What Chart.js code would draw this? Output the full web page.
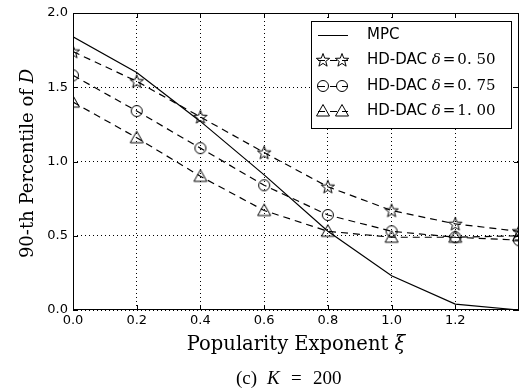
<!DOCTYPE html>
<html>
<head>
<meta charset="utf-8">
<script src="https://cdn.jsdelivr.net/npm/chart.js@4.4.0/dist/chart.umd.min.js"></script>
<style>
  html, body { margin: 0; padding: 0; background: #fff; }
  #wrap { width: 520px; height: 392px; position: relative; }
</style>
</head>
<body>
<div id="wrap"><canvas id="chart" width="520" height="392"></canvas></div>
<script>
// Values
const xValues = [0.0, 0.2, 0.4, 0.6, 0.8, 1.0, 1.2, 1.4];
const mpc     = [1.84, 1.60, 1.27, 0.91, 0.53, 0.23, 0.04, 0.0];
const hd050   = [1.74, 1.54, 1.30, 1.06, 0.83, 0.67, 0.58, 0.53];
const hd075   = [1.58, 1.34, 1.09, 0.84, 0.64, 0.53, 0.49, 0.47];
const hd100   = [1.40, 1.16, 0.90, 0.67, 0.53, 0.49, 0.49, 0.50];
const xTicks  = [0.0, 0.2, 0.4, 0.6, 0.8, 1.0, 1.2];
const yTicks  = [0.0, 0.5, 1.0, 1.5, 2.0];

const SANS = '"DejaVu Sans", sans-serif';
const SERIF = '"DejaVu Serif", serif';
const TIMES = '"Liberation Serif", serif';

// hollow marker images
function makeMarker(kind) {
    const c = document.createElement('canvas');
    c.width = 16; c.height = 16;
    const g = c.getContext('2d');
    g.strokeStyle = '#000';
    g.lineWidth = 1;
    g.beginPath();
    if (kind === 'star') {
        for (let i = 0; i < 10; i++) {
            const r = i % 2 === 0 ? 7 : 2.9;
            const a = -Math.PI / 2 + i * Math.PI / 5;
            const px = 8 + r * Math.cos(a), py = 8.5 + r * Math.sin(a);
            if (i === 0) g.moveTo(px, py); else g.lineTo(px, py);
        }
        g.closePath();
    } else if (kind === 'circle') {
        g.arc(8, 8, 5.5, 0, Math.PI * 2);
    } else {
        g.moveTo(8, 1.5);
        g.lineTo(14.5, 13);
        g.lineTo(1.5, 13);
        g.closePath();
    }
    g.stroke();
    return c;
}
const starImg = makeMarker('star');
const circleImg = makeMarker('circle');
const triImg = makeMarker('tri');

function pts(ys) {
    return xValues.map((x, i) => ({ x: x, y: ys[i] }));
}

const legendRows = [
    { label: 'MPC', delta: null, img: null },
    { label: 'HD-DAC ', delta: '0.50', img: starImg },
    { label: 'HD-DAC ', delta: '0.75', img: circleImg },
    { label: 'HD-DAC ', delta: '1.00', img: triImg }
];

const decorPlugin = {
    id: 'decor',
    afterDatasetsDraw(chart) {
        const ctx = chart.ctx;
        const a = chart.chartArea;
        const xs = chart.scales.x, ys = chart.scales.y;
        ctx.save();
        // frame
        ctx.strokeStyle = '#000';
        ctx.lineWidth = 1;
        ctx.strokeRect(a.left + 0.5, a.top + 0.5, a.right - a.left - 1, a.bottom - a.top - 1);
        // inward ticks
        ctx.beginPath();
        xTicks.forEach(v => {
            const px = Math.round(xs.getPixelForValue(v)) + 0.5;
            ctx.moveTo(px, a.bottom); ctx.lineTo(px, a.bottom - 5);
            ctx.moveTo(px, a.top); ctx.lineTo(px, a.top + 5);
        });
        yTicks.forEach(v => {
            const py = Math.round(ys.getPixelForValue(v)) + 0.5;
            ctx.moveTo(a.left, py); ctx.lineTo(a.left + 5, py);
            ctx.moveTo(a.right, py); ctx.lineTo(a.right - 5, py);
        });
        ctx.stroke();

        // legend
        const lx = 311, ly = 21, lw = 200, lh = 107;
        ctx.fillStyle = '#fff';
        ctx.fillRect(lx, ly, lw, lh);
        ctx.strokeRect(lx + 0.5, ly + 0.5, lw, lh);
        const rowY = [35, 60, 86, 111];
        legendRows.forEach((r, i) => {
            const y = rowY[i];
            ctx.strokeStyle = '#000';
            ctx.lineWidth = 1;
            if (!r.img) {
                ctx.setLineDash([]);
                ctx.beginPath();
                ctx.moveTo(318, y + 0.5); ctx.lineTo(348, y + 0.5);
                ctx.stroke();
            } else {
                ctx.setLineDash([7, 5]);
                ctx.beginPath();
                ctx.moveTo(318, y + 0.5); ctx.lineTo(348, y + 0.5);
                ctx.stroke();
                ctx.setLineDash([]);
                ctx.drawImage(r.img, 323 - 8, y - 8);
                ctx.drawImage(r.img, 342 - 8, y - 8);
            }
            ctx.fillStyle = '#000';
            ctx.textBaseline = 'middle';
            ctx.textAlign = 'left';
            ctx.font = '15px ' + SANS;
            let tx = 367;
            ctx.fillText(r.label, tx, y);
            if (r.delta) {
                tx += ctx.measureText(r.label).width;
                ctx.font = 'italic 15px ' + SERIF;
                ctx.fillText('\u03b4', tx, y);
                tx += ctx.measureText('\u03b4').width + 2;
                ctx.font = '15px ' + SERIF;
                ctx.fillText('=', tx, y);
                tx += ctx.measureText('=').width + 2;
                ctx.fillText(r.delta.replace('.', '. '), tx, y);
            }
        });

        // x axis title
        ctx.fillStyle = '#000';
        ctx.textBaseline = 'middle';
        ctx.textAlign = 'left';
        const cx = (a.left + a.right) / 2;
        ctx.font = '19.5px ' + SERIF;
        const t1 = 'Popularity Exponent ';
        const w1 = ctx.measureText(t1).width;
        ctx.font = 'italic 19.5px ' + SERIF;
        const w2 = ctx.measureText('\u03be').width;
        let sx = cx - (w1 + w2) / 2;
        ctx.font = '19.5px ' + SERIF;
        ctx.fillText(t1, sx, 345);
        ctx.font = 'italic 19.5px ' + SERIF;
        ctx.fillText('\u03be', sx + w1, 345);

        // caption (math spacing as in the figure)
        ctx.textBaseline = 'alphabetic';
        ctx.font = '19px ' + TIMES;
        ctx.fillText('(c)', 236, 384);
        ctx.font = 'italic 19px ' + TIMES;
        ctx.fillText('K', 267, 384);
        ctx.font = '19px ' + TIMES;
        ctx.fillText('=', 291, 384);
        ctx.fillText('200', 313, 384);

        // y title, rotated
        ctx.textBaseline = 'middle';
        ctx.translate(28, (a.top + a.bottom) / 2 + 2);
        ctx.rotate(-Math.PI / 2);
        ctx.font = '18px ' + SERIF;
        const y1 = '90-th Percentile of ';
        const yw1 = ctx.measureText(y1).width;
        ctx.font = 'italic 18px ' + SERIF;
        const yw2 = ctx.measureText('D').width;
        sx = -(yw1 + yw2) / 2;
        ctx.font = '18px ' + SERIF;
        ctx.fillText(y1, sx, 0);
        ctx.font = 'italic 18px ' + SERIF;
        ctx.fillText('D', sx + yw1, 0);
        ctx.restore();
    }
};

const dashed = [7, 5];

new Chart(document.getElementById('chart'), {
    type: 'line',
    data: {
        datasets: [
            { label: 'MPC', data: pts(mpc), borderColor: '#000', borderWidth: 1.2,
              pointRadius: 0, tension: 0 },
            { label: 'HD-DAC 0.50', data: pts(hd050), borderColor: '#000', borderWidth: 1.2,
              borderDash: dashed, pointStyle: starImg, tension: 0 },
            { label: 'HD-DAC 0.75', data: pts(hd075), borderColor: '#000', borderWidth: 1.2,
              borderDash: dashed, pointStyle: circleImg, tension: 0 },
            { label: 'HD-DAC 1.00', data: pts(hd100), borderColor: '#000', borderWidth: 1.2,
              borderDash: dashed, pointStyle: triImg, tension: 0 }
        ]
    },
    options: {
        responsive: false,
        animation: false,
        events: [],
        layout: { autoPadding: false, padding: { top: 13, right: 1, left: 0, bottom: 0 } },
        plugins: { legend: { display: false }, tooltip: { enabled: false } },
        scales: {
            x: {
                type: 'linear',
                min: 0, max: 1.4,
                afterFit(s) { s.height = 82; s.paddingLeft = 0; s.paddingRight = 0; },
                afterBuildTicks(s) { s.ticks = xTicks.map(v => ({ value: v })); },
                grid: { color: '#000', lineWidth: 1, drawTicks: false },
                border: { display: false, dash: [1, 3] },
                ticks: {
                    color: '#000', padding: 3,
                    font: { family: SANS, size: 13 },
                    callback: v => v.toFixed(1)
                }
            },
            y: {
                min: 0, max: 2.0,
                afterFit(s) { s.width = 73; s.paddingTop = 0; s.paddingBottom = 0; },
                afterBuildTicks(s) { s.ticks = yTicks.map(v => ({ value: v })); },
                grid: { color: '#000', lineWidth: 1, drawTicks: false },
                border: { display: false, dash: [1, 3] },
                ticks: {
                    color: '#000', padding: 5,
                    font: { family: SANS, size: 13 },
                    callback: v => v.toFixed(1)
                }
            }
        }
    },
    plugins: [decorPlugin]
});
</script>
</body>
</html>
